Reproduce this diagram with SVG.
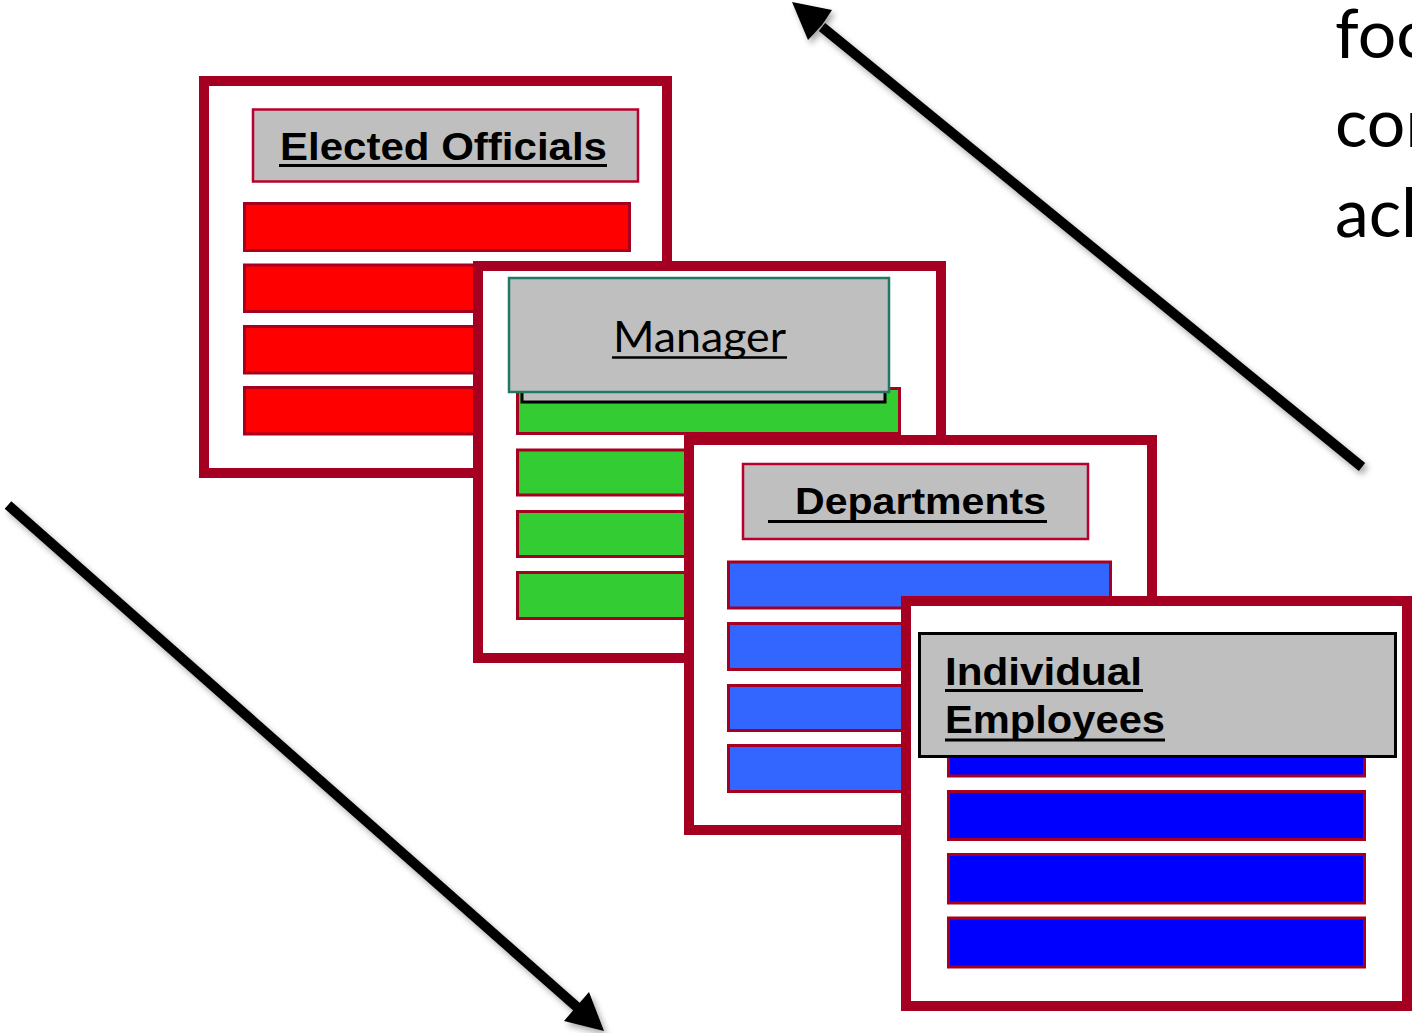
<svg xmlns="http://www.w3.org/2000/svg" width="1412" height="1033" viewBox="0 0 1412 1033">
<defs>
<filter id="sh" x="-20%" y="-20%" width="140%" height="140%">
<feDropShadow dx="3" dy="4" stdDeviation="3" flood-color="#000" flood-opacity="0.35"/>
</filter>
</defs>
<style>
.frame{fill:#fff;stroke:#A50021;stroke-width:10}
.bar{stroke:#A50021;stroke-width:3}
.red{fill:#FF0000}
.green{fill:#33CC33}
.lblue{fill:#3366FF}
.blue{fill:#0000FF}
.hdr{fill:#BFBFBF}
.hb{font-family:"Liberation Sans",Arial,sans-serif;font-weight:bold;fill:#000}
.ul{stroke:#000;stroke-width:3}
.cal{font-family:Lato,"Open Sans",sans-serif;fill:#000}
.arr{stroke:#000;stroke-width:10;fill:none}
</style>
<rect width="1412" height="1033" fill="#fff"/>

<g id="elected-officials">
<rect class="frame" x="204" y="81" width="463" height="392"/>
<rect class="hdr" x="253" y="109.5" width="385" height="72" stroke="#B8002E" stroke-width="2.5"/>
<text class="hb" x="280" y="159.5" font-size="38" textLength="327" lengthAdjust="spacingAndGlyphs">Elected Officials</text>
<line class="ul" x1="279" y1="165.5" x2="607" y2="165.5"/>
<rect class="bar red" x="244.5" y="203.5" width="385" height="47"/>
<rect class="bar red" x="244.5" y="265" width="385" height="46.5"/>
<rect class="bar red" x="244.5" y="326.5" width="385" height="46.5"/>
<rect class="bar red" x="244.5" y="387.5" width="385" height="46.5"/>
</g>

<g id="manager">
<rect class="frame" x="478" y="266" width="463" height="392"/>
<rect class="bar green" x="517.5" y="388.5" width="382" height="45"/>
<rect class="bar green" x="517.5" y="450" width="382" height="45"/>
<rect class="bar green" x="517.5" y="511.5" width="382" height="45"/>
<rect class="bar green" x="517.5" y="572.5" width="382" height="46"/>
<rect class="hdr" x="522" y="290" width="363" height="112" stroke="#000" stroke-width="3"/>
<rect class="hdr" x="509" y="278" width="380" height="114" stroke="#1F7A65" stroke-width="2.5"/>
<text class="cal" x="613" y="352" font-size="43" textLength="173" lengthAdjust="spacingAndGlyphs">Manager</text>
<line x1="612" y1="357.5" x2="787" y2="357.5" stroke="#000" stroke-width="2.5"/>
</g>

<g id="departments">
<rect class="frame" x="689" y="440" width="463" height="390"/>
<rect class="hdr" x="743" y="464" width="345" height="75" stroke="#B8002E" stroke-width="2.5"/>
<text class="hb" x="795" y="513.5" font-size="36" textLength="251" lengthAdjust="spacingAndGlyphs">Departments</text>
<line class="ul" x1="768" y1="521.5" x2="1047" y2="521.5"/>
<rect class="bar lblue" x="728.5" y="562" width="382" height="46"/>
<rect class="bar lblue" x="728.5" y="623.5" width="382" height="46"/>
<rect class="bar lblue" x="728.5" y="685.5" width="382" height="45"/>
<rect class="bar lblue" x="728.5" y="745.5" width="382" height="46"/>
</g>

<g id="individual-employees">
<rect class="frame" x="906" y="601" width="501" height="405"/>
<rect class="bar blue" x="948.5" y="728" width="416" height="48"/>
<rect class="bar blue" x="948.5" y="791.5" width="416" height="48"/>
<rect class="bar blue" x="948.5" y="854.5" width="416" height="48.5"/>
<rect class="bar blue" x="948.5" y="918" width="416" height="49"/>
<rect class="hdr" x="919.5" y="633.5" width="476" height="123" stroke="#000" stroke-width="3"/>
<text class="hb" x="945" y="685" font-size="39.5" textLength="197" lengthAdjust="spacingAndGlyphs">Individual</text>
<line class="ul" x1="945" y1="690.5" x2="1143" y2="690.5"/>
<text class="hb" x="945" y="732.5" font-size="39.5" textLength="220" lengthAdjust="spacingAndGlyphs">Employees</text>
<line class="ul" x1="945" y1="740" x2="1165" y2="740"/>
</g>

<g id="connectors">
<g filter="url(#sh)">
<line class="arr" x1="1362" y1="467" x2="822" y2="27"/>
<polygon points="792,2 832,10 822,25 808,40" fill="#000"/>
</g>
<g filter="url(#sh)">
<line class="arr" x1="8" y1="505" x2="578" y2="1008"/>
<polygon points="604,1031 564,1021 576,1007 589,992" fill="#000"/>
</g>
</g>

<g id="side-text">
<text class="cal" x="1335" y="58" font-size="68">foc</text>
<text class="cal" x="1335" y="147" font-size="68">con</text>
<text class="cal" x="1335" y="237" font-size="68">ach</text>
</g>
</svg>
